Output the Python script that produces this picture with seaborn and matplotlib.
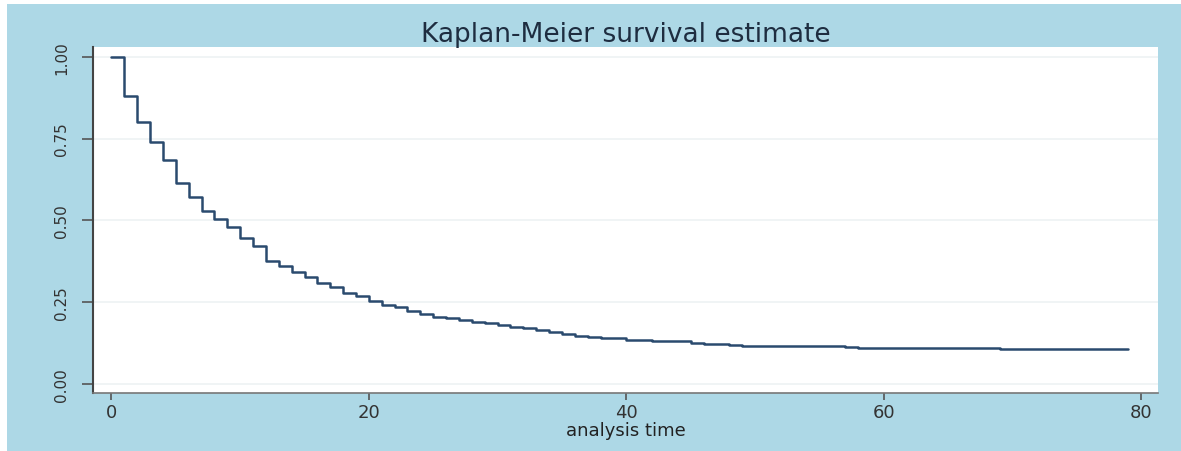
import numpy as np
import pandas as pd
import matplotlib
matplotlib.use("Agg")
import matplotlib.pyplot as plt
from matplotlib.patches import Rectangle
import seaborn as sns

# Kaplan-Meier step estimate (time at which each step starts)
times = [0, 1, 2, 3, 4, 5, 6, 7, 8, 9, 10, 11, 12, 13, 14, 15, 16, 17, 18, 19,
         20, 21, 22, 23, 24, 25, 26, 27, 28, 29, 30, 31, 32, 33, 34, 35, 36, 37,
         38, 40, 42, 45, 46, 48, 49, 57, 58, 62, 69, 79]
survival = [1.00, 0.88, 0.80, 0.74, 0.685, 0.615, 0.572, 0.528, 0.504, 0.480,
            0.446, 0.423, 0.376, 0.360, 0.343, 0.326, 0.310, 0.296, 0.277, 0.268,
            0.254, 0.240, 0.235, 0.224, 0.214, 0.206, 0.201, 0.196, 0.190, 0.185,
            0.180, 0.175, 0.170, 0.165, 0.158, 0.152, 0.148, 0.145, 0.140, 0.135,
            0.130, 0.126, 0.122, 0.119, 0.117, 0.114, 0.111, 0.110, 0.106, 0.106]
y_ticks = [0.00, 0.25, 0.50, 0.75, 1.00]
x_ticks = [0, 20, 40, 60, 80]

df = pd.DataFrame({"time": times, "surv": survival})

bg = "#add8e6"
sns.set_style("white", {"axes.facecolor": "white", "figure.facecolor": "white"})
plt.rcParams["font.family"] = ["DejaVu Sans"]

fig = plt.figure(figsize=(11.81, 4.52), dpi=100)
fig.patches.append(Rectangle((7 / 1181, 0), 1, 1 - 5 / 452, transform=fig.transFigure,
                             facecolor=bg, edgecolor="none", zorder=-1))
ax = fig.add_axes([93 / 1181, 1 - 394 / 452, (1158 - 93) / 1181, (394 - 48) / 452])

sns.lineplot(data=df, x="time", y="surv", ax=ax, drawstyle="steps-post",
             estimator=None, color="#2a4a6e", linewidth=1.8)

ax.set_xlim(-1.43, 81.3)
ax.set_ylim(-0.0275, 1.030)
ax.set_xticks(x_ticks)
ax.set_yticks(y_ticks)
ax.set_yticklabels([f"{v:.2f}" for v in y_ticks], rotation=90, va="center")
ax.tick_params(axis="y", direction="out", length=8, width=1.2, color="#555555",
               labelsize=11, pad=9, labelcolor="#333333", left=True)
ax.tick_params(axis="x", direction="out", length=5, width=1.2, color="#555555",
               labelsize=13, pad=2, labelcolor="#333333", bottom=True)
ax.yaxis.grid(True, color="#eef2f3", linewidth=1.2)
ax.xaxis.grid(False)

for side in ["top", "right"]:
    ax.spines[side].set_visible(False)
ax.spines["left"].set_color("#444444")
ax.spines["left"].set_linewidth(1.5)
ax.spines["bottom"].set_color("#777777")
ax.spines["bottom"].set_linewidth(1.2)

ax.set_xlabel("analysis time", fontsize=13, color="#222222", labelpad=0)
ax.set_ylabel("")
ax.set_title("Kaplan-Meier survival estimate", fontsize=19, color="#1e2d40", pad=4)

fig.savefig("out.png", dpi=100, facecolor=fig.get_facecolor())
